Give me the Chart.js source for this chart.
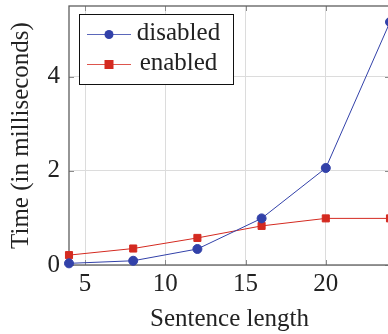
<!DOCTYPE html>
<html><head><meta charset="utf-8">
<script src="https://cdn.jsdelivr.net/npm/chart.js@4/dist/chart.umd.min.js"></script>
<style>
html,body{margin:0;padding:0;overflow:hidden;background:#fff;width:388px;height:334px}
#wrap{position:relative;width:396px;height:334px}
</style></head><body>
<div id="wrap"><canvas id="c"></canvas></div>
<script>
const sentenceLength = [4, 8, 12, 16, 20, 24];
const disabledMs = [0.035, 0.09, 0.34, 0.99, 2.06, 5.16];
const enabledMs = [0.21, 0.35, 0.575, 0.83, 0.99, 0.99];
const xTicks = [5, 10, 15, 20];
const yTicks = [0, 2, 4];
const seriesLabels = ['disabled', 'enabled'];
const xTitle = 'Sentence length';
const yTitle = 'Time (in milliseconds)';

const BLUE = '#3241a9';
const RED = '#d42a20';
const FONT = "'Liberation Serif', 'Times New Roman', serif";
const FS = 25;
const TEXT = '#222';

const toPoints = ys => sentenceLength.map((x, i) => ({x, y: ys[i]}));

const framePlugin = {
  id: 'frame',
  beforeDatasetsDraw(chart) {
    const {ctx, chartArea: a, scales: {x, y}} = chart;
    ctx.save();
    ctx.strokeStyle = '#8c8c8c'; ctx.lineWidth = 1;
    ctx.beginPath();
    xTicks.forEach(v => {
      const px = Math.round(x.getPixelForValue(v)) + 0.5;
      ctx.moveTo(px, a.bottom); ctx.lineTo(px, a.bottom - 5);
      ctx.moveTo(px, a.top); ctx.lineTo(px, a.top + 5);
    });
    yTicks.forEach(v => {
      const py = Math.round(y.getPixelForValue(v)) + 0.5;
      ctx.moveTo(a.left, py); ctx.lineTo(a.left + 5, py);
      ctx.moveTo(a.right, py); ctx.lineTo(a.right - 5, py);
    });
    ctx.stroke();
    ctx.strokeStyle = '#5e5e5e'; ctx.lineWidth = 1.3;
    ctx.strokeRect(a.left, a.top, a.right - a.left, a.bottom - a.top);
    ctx.restore();
  },
  afterDatasetsDraw(chart) {
    const {ctx, chartArea: a} = chart;
    const bx = a.left + 10, by = a.top + 8, bw = 154, bh = 70;
    ctx.save();
    ctx.fillStyle = '#fff';
    ctx.fillRect(bx, by, bw, bh);
    ctx.strokeStyle = '#111'; ctx.lineWidth = 1;
    ctx.strokeRect(bx + 0.5, by + 0.5, bw, bh);
    chart.data.datasets.forEach((ds, i) => {
      const cy = by + 20 + i * 30;
      ctx.globalAlpha = 0.8;
      ctx.strokeStyle = ds.borderColor; ctx.lineWidth = 1;
      ctx.beginPath(); ctx.moveTo(bx + 8, cy + 0.5); ctx.lineTo(bx + 52, cy + 0.5); ctx.stroke();
      ctx.globalAlpha = 1;
      ctx.fillStyle = ds.pointBackgroundColor;
      if (ds.pointStyle === 'rect') {
        ctx.fillRect(bx + 30 - 4.5, cy + 0.5 - 4.5, 9, 9);
      } else {
        ctx.beginPath(); ctx.arc(bx + 30, cy + 0.5, 4.5, 0, Math.PI * 2); ctx.fill();
      }
      ctx.fillStyle = TEXT;
      ctx.font = FS + 'px ' + FONT;
      ctx.textAlign = 'center'; ctx.textBaseline = 'alphabetic';
      ctx.fillText(ds.label, bx + 99.5, cy + 6);
    });
    ctx.restore();
  }
};

new Chart(document.getElementById('c'), {
  type: 'line',
  data: {
    datasets: [
      {label: seriesLabels[0], data: toPoints(disabledMs), borderColor: BLUE, backgroundColor: BLUE,
       pointBackgroundColor: BLUE, pointBorderColor: BLUE, pointStyle: 'circle', pointRadius: 4.5,
       borderWidth: 1, tension: 0, clip: false},
      {label: seriesLabels[1], data: toPoints(enabledMs), borderColor: RED, backgroundColor: RED,
       pointBackgroundColor: RED, pointBorderColor: RED, pointStyle: 'rect', pointRadius: 5,
       borderWidth: 1, tension: 0, clip: false}
    ]
  },
  options: {
    responsive: true, maintainAspectRatio: false, animation: false,
    layout: {padding: {top: 4, right: 2, left: 0, bottom: 0}},
    plugins: {legend: {display: false}, tooltip: {enabled: false}},
    scales: {
      x: {
        type: 'linear', min: 4, max: 24,
        afterBuildTicks: s => { s.ticks = xTicks.map(v => ({value: v})); },
        afterFit: s => { s.height = 69; s.paddingLeft = 0; s.paddingRight = 0; },
        grid: {color: '#dcdcdc', lineWidth: 1, drawTicks: false},
        border: {display: false},
        ticks: {padding: 4, color: TEXT, font: {family: FONT, size: FS}, maxRotation: 0},
        title: {display: true, text: xTitle, color: TEXT, font: {family: FONT, size: FS}, padding: {top: 0, bottom: 0}}
      },
      y: {
        type: 'linear', min: 0, max: 5.5,
        afterBuildTicks: s => { s.ticks = yTicks.map(v => ({value: v})); },
        afterFit: s => { s.width = 69; s.paddingTop = 0; s.paddingBottom = 0; },
        grid: {color: '#dcdcdc', lineWidth: 1, drawTicks: false},
        border: {display: false},
        ticks: {padding: 9, color: TEXT, font: {family: FONT, size: FS}},
        title: {display: true, text: yTitle, color: TEXT, font: {family: FONT, size: FS}, padding: {top: 6, bottom: 0}}
      }
    }
  },
  plugins: [framePlugin]
});
</script>
</body></html>
